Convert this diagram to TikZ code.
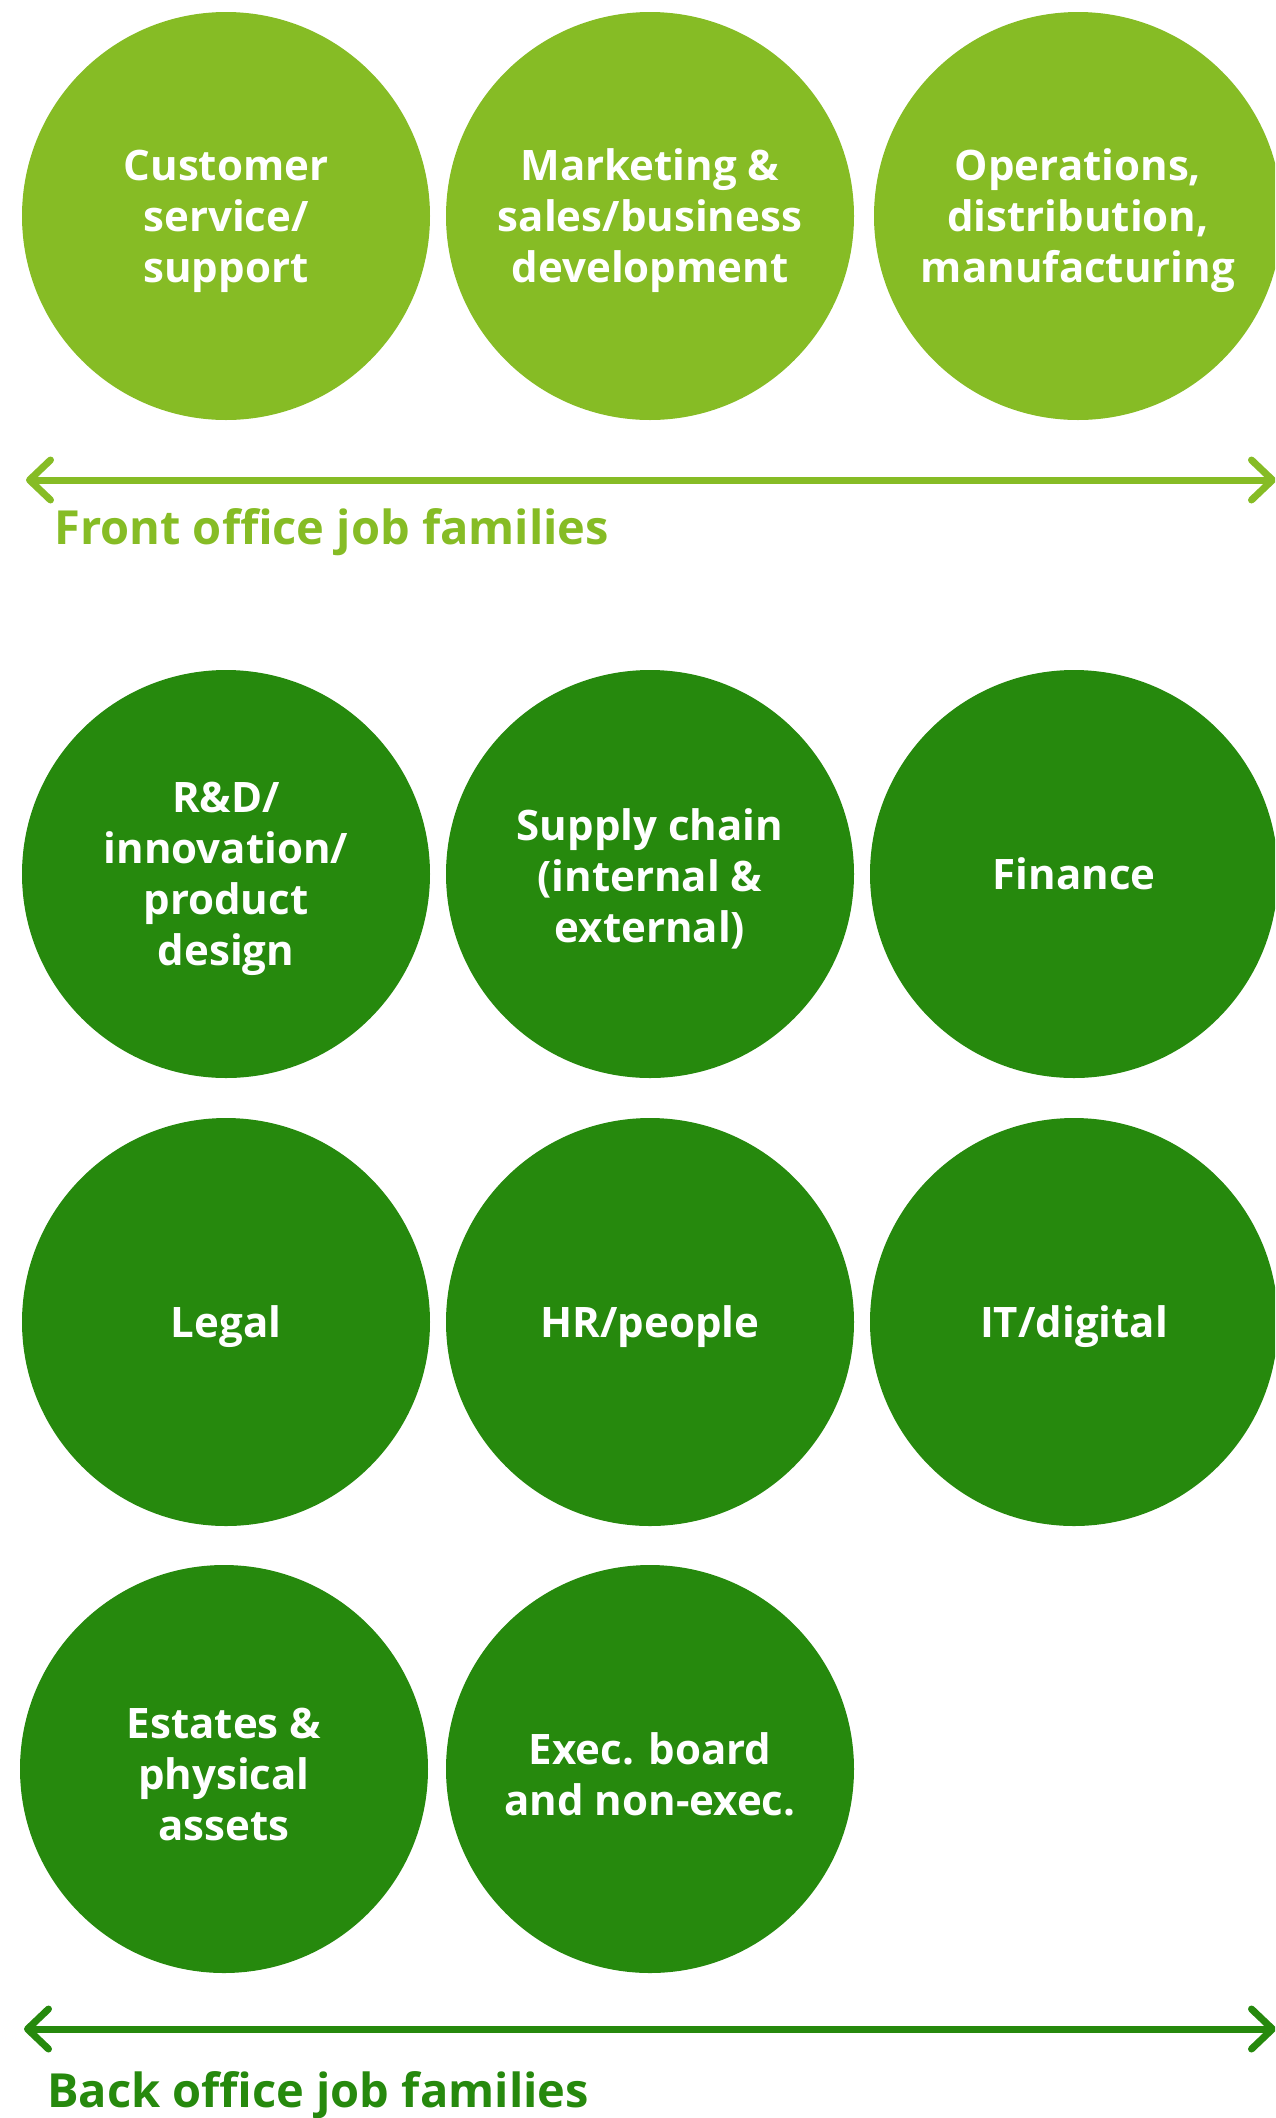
\documentclass[tikz,border=0pt]{standalone}
\usepackage{fontspec}
\setmainfont{Open Sans}
\usetikzlibrary{arrows.meta}
\definecolor{lightgreen}{HTML}{86BC25}
\definecolor{darkgreen}{HTML}{26890D}
\begin{document}
\begin{tikzpicture}[x=1pt,y=-1pt,
  disc/.style={circle,minimum size=408pt,inner sep=0pt},
  front/.style={disc,fill=lightgreen},
  back/.style={disc,fill=darkgreen},
  famtext/.style={align=center,text=white,inner sep=0pt,yshift=-5pt,
    font=\fontsize{42}{51}\selectfont\bfseries},
  span/.style={line width=7pt,line cap=round,
    {Straight Barb[length=21pt,width=40pt,line cap=round,line join=round]}-{Straight Barb[length=21pt,width=40pt,line cap=round,line join=round]}},
  grouplabel/.style={anchor=base west,inner sep=0pt,font=\fontsize{47}{58}\selectfont\bfseries}]
\useasboundingbox (0,0) rectangle (1275,2118);
\begin{scope}
\clip (0,0) rectangle (1275,2118);
% front office
\node[front] (c1) at (226,216) {};
\node[front] (c2) at (650,216) {};
\node[front] (c3) at (1078,216) {};
% back office
\node[back] (b1) at (226,874) {};
\node[back] (b2) at (650,874) {};
\node[back] (b3) at (1074,874) {};
\node[back] (b4) at (226,1322) {};
\node[back] (b5) at (650,1322) {};
\node[back] (b6) at (1074,1322) {};
\node[back] (b7) at (224,1769) {};
\node[back] (b8) at (650,1769) {};
\node[famtext] (tc1) at (c1) {Customer\\service/\\support};
\node[famtext] (tc2) at (c2) {Marketing \&\\sales/business\\development};
\node[famtext] (tc3) at (c3) {Operations,\\distribution,\\manufacturing};
\node[famtext] (tb1) at (b1) {R\&D/\\innovation/\\product\\design};
\node[famtext] (tb2) at (b2) {Supply chain\\(internal \&\\external)};
\node[famtext,yshift=5pt] (tb3) at (b3) {Finance};
\node[famtext] (tb4) at (b4) {Legal};
\node[famtext] (tb5) at (b5) {HR/people};
\node[famtext] (tb6) at (b6) {IT/digital};
\node[famtext] (tb7) at (b7) {Estates \&\\physical\\assets};
\node[famtext] (tb8) at (b8) {Exec. board\\and non-exec.};
% arrows
\coordinate (fl) at (26,480);
\coordinate (fr) at (1276,480);
\draw[span,draw=lightgreen] (fl) -- (fr);
\coordinate (bl) at (24,2029);
\coordinate (br) at (1276,2029);
\draw[span,draw=darkgreen] (bl) -- (br);
\end{scope}
\node[grouplabel,text=lightgreen] (fo) at (54,544) {Front office job families};
\node[grouplabel,text=darkgreen] (bo) at (47,2107) {Back office job families};
\end{tikzpicture}
\end{document}
